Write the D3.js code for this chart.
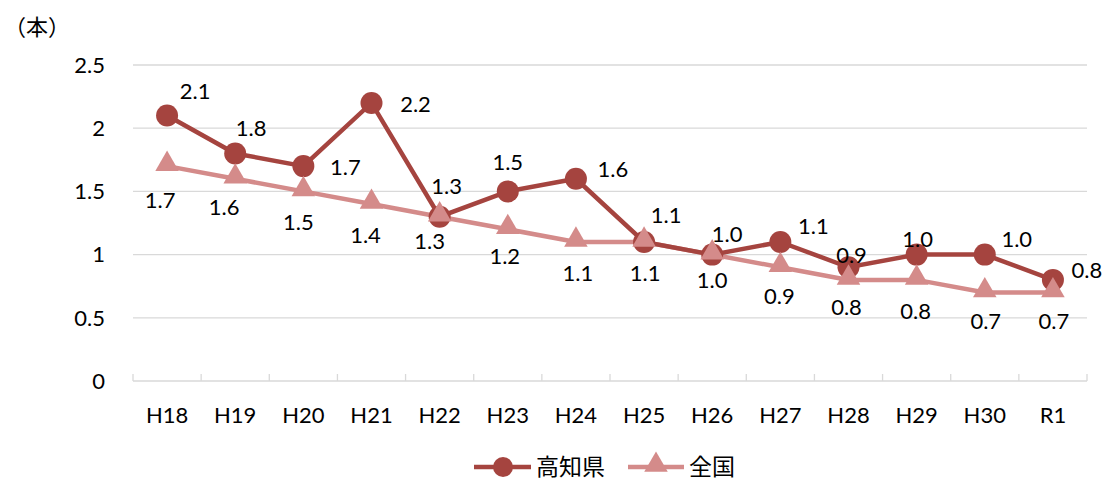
<!DOCTYPE html>
<html>
<head>
<meta charset="utf-8">
<script src="https://cdn.jsdelivr.net/npm/d3@7"></script>
<style>
  body { margin: 0; background: #fff; }
  text { font-family: Lato, "Noto Sans CJK JP", sans-serif; fill: #000; }
</style>
</head>
<body>
<script>
// data
var years = ["H18", "H19", "H20", "H21", "H22", "H23", "H24", "H25", "H26", "H27", "H28", "H29", "H30", "R1"];
var kochi = [2.1, 1.8, 1.7, 2.2, 1.3, 1.5, 1.6, 1.1, 1.0, 1.1, 0.9, 1.0, 1.0, 0.8];
var zenkoku = [1.7, 1.6, 1.5, 1.4, 1.3, 1.2, 1.1, 1.1, 1.0, 0.9, 0.8, 0.8, 0.7, 0.7];
var yTicks = [0, 0.5, 1, 1.5, 2, 2.5];

// label offsets (layout only)
var kochiOff = [[28,-24],[16,-25],[42,1],[44,1],[7,-30],[0,-29],[37,-9],[22,-27],[15,-20],[33,-16],[3,-12],[1,-15],[32,-15],[34,-10]];
var zenOff = [[-7,34],[-11,29],[-5,31],[-6,31],[-10,25],[-3,27],[2,31],[1,31],[0,26],[-1,29],[-2,27],[-1,31],[1,29],[1,29]];

var colKochi = "#a5443f", colZen = "#d48b8a";

var margin = {top: 65, right: 19, bottom: 101, left: 133},
    width = 1106 - margin.left - margin.right,
    height = 482 - margin.top - margin.bottom;

var svg = d3.select("body").append("svg")
    .attr("width", 1106)
    .attr("height", 482);

var g = svg.append("g")
    .attr("transform", "translate(" + margin.left + "," + margin.top + ")");

var x = d3.scaleBand().domain(years).range([0, width]);
var y = d3.scaleLinear().domain([0, 2.5]).range([height, 0]);
var cx = function(i) { return x(years[i]) + x.bandwidth() / 2; };

// gridlines
g.selectAll(".grid")
    .data(yTicks.slice(1))
  .enter().append("line")
    .attr("x1", 0).attr("x2", width)
    .attr("y1", function(d) { return y(d); })
    .attr("y2", function(d) { return y(d); })
    .attr("stroke", "#d9d9d9").attr("stroke-width", 1.3);

// y labels
g.selectAll(".ylab")
    .data(yTicks)
  .enter().append("text")
    .attr("x", -28)
    .attr("y", function(d) { return y(d); })
    .attr("dy", "0.35em")
    .attr("text-anchor", "end")
    .style("font-size", "22px")
    .text(function(d) { return d; });

// x axis
g.append("line")
    .attr("x1", 0).attr("x2", width)
    .attr("y1", height).attr("y2", height)
    .attr("stroke", "#d9d9d9").attr("stroke-width", 1.3);
g.selectAll(".xtick")
    .data(years.concat(["end"]))
  .enter().append("line")
    .attr("x1", function(d, i) { return i * x.bandwidth(); })
    .attr("x2", function(d, i) { return i * x.bandwidth(); })
    .attr("y1", height - 7).attr("y2", height)
    .attr("stroke", "#d9d9d9").attr("stroke-width", 1.3);
g.selectAll(".xlab")
    .data(years)
  .enter().append("text")
    .attr("x", function(d) { return x(d) + x.bandwidth() / 2; })
    .attr("y", height + 42)
    .attr("text-anchor", "middle")
    .style("font-size", "22px")
    .text(function(d) { return d; });

// unit
svg.append("text")
    .attr("x", 4).attr("y", 35)
    .style("font-size", "22px")
    .text("（本）");

var line = d3.line()
    .x(function(d, i) { return cx(i); })
    .y(function(d) { return y(d); });

var tri = d3.symbol().type(d3.symbolTriangle).size(240);

// 全国 series line
g.append("path").datum(zenkoku)
    .attr("d", line).attr("fill", "none")
    .attr("stroke", colZen).attr("stroke-width", 4.5);

// 高知県 series
g.append("path").datum(kochi)
    .attr("d", line).attr("fill", "none")
    .attr("stroke", colKochi).attr("stroke-width", 4.5);
g.selectAll(".dot")
    .data(kochi)
  .enter().append("circle")
    .attr("cx", function(d, i) { return cx(i); })
    .attr("cy", function(d) { return y(d); })
    .attr("r", 11)
    .attr("fill", colKochi);

// 全国 markers on top
g.selectAll(".tri")
    .data(zenkoku)
  .enter().append("path")
    .attr("d", tri)
    .attr("transform", function(d, i) { return "translate(" + cx(i) + "," + (y(d) - 2) + ")"; })
    .attr("fill", colZen);

// data labels
g.selectAll(".klab")
    .data(kochi)
  .enter().append("text")
    .attr("x", function(d, i) { return cx(i) + kochiOff[i][0]; })
    .attr("y", function(d, i) { return y(d) + kochiOff[i][1]; })
    .attr("dy", "0.35em")
    .attr("text-anchor", "middle")
    .style("font-size", "22px")
    .text(function(d) { return d.toFixed(1); });
g.selectAll(".zlab")
    .data(zenkoku)
  .enter().append("text")
    .attr("x", function(d, i) { return cx(i) + zenOff[i][0]; })
    .attr("y", function(d, i) { return y(d) + zenOff[i][1]; })
    .attr("dy", "0.35em")
    .attr("text-anchor", "middle")
    .style("font-size", "22px")
    .text(function(d) { return d.toFixed(1); });

// legend
var leg = svg.append("g").attr("transform", "translate(0,467)");
leg.append("line").attr("x1", 474).attr("x2", 531).attr("y1", 0).attr("y2", 0)
    .attr("stroke", colKochi).attr("stroke-width", 4.5);
leg.append("circle").attr("cx", 503).attr("cy", 0).attr("r", 10).attr("fill", colKochi);
leg.append("text").attr("x", 536).attr("y", 0).attr("dy", "0.35em")
    .style("font-size", "23px").text("高知県");
leg.append("line").attr("x1", 628).attr("x2", 684).attr("y1", 0).attr("y2", 0)
    .attr("stroke", colZen).attr("stroke-width", 4.5);
leg.append("path").attr("d", tri).attr("transform", "translate(656,-2)").attr("fill", colZen);
leg.append("text").attr("x", 689).attr("y", 0).attr("dy", "0.35em")
    .style("font-size", "23px").text("全国");
</script>
</body>
</html>
